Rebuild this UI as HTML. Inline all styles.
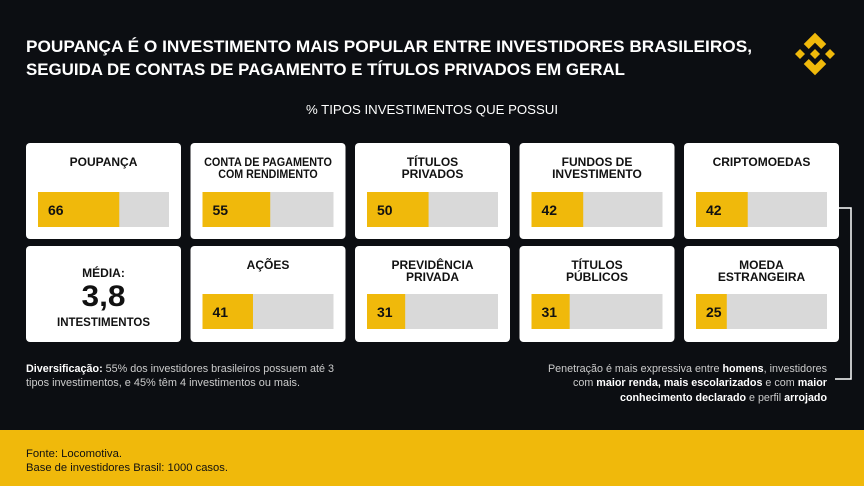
<!DOCTYPE html>
<html><head><meta charset="utf-8"><style>
html,body{margin:0;padding:0;background:#0c0e12;}
svg{display:block;font-family:"Liberation Sans",sans-serif;}
</style></head><body>
<svg id="chart" width="864" height="486" viewBox="0 0 864 486">
<rect x="0" y="0" width="864" height="486" fill="#0c0e12"/>
<text x="26" y="52" fill="#fff" font-weight="bold" font-size="17" textLength="726" lengthAdjust="spacingAndGlyphs">POUPANÇA É O INVESTIMENTO MAIS POPULAR ENTRE INVESTIDORES BRASILEIROS,</text>
<text x="26" y="75" fill="#fff" font-weight="bold" font-size="17" textLength="599" lengthAdjust="spacingAndGlyphs">SEGUIDA DE CONTAS DE PAGAMENTO E TÍTULOS PRIVADOS EM GERAL</text>
<g fill="#F0B90B" transform="translate(815,54) scale(1.25)">
<polygon points="0,-17 9,-8 5,-4 0,-9 -5,-4 -9,-8"/>
<polygon points="0,17 9,8 5,4 0,9 -5,4 -9,8"/>
<polygon points="-16,0 -12,-4 -8,0 -12,4"/>
<polygon points="16,0 12,-4 8,0 12,4"/>
<polygon points="0,-4 4,0 0,4 -4,0"/>
</g>
<text x="432" y="114" fill="#fff" font-size="13" text-anchor="middle" textLength="252" lengthAdjust="spacingAndGlyphs">% TIPOS INVESTIMENTOS QUE POSSUI</text>
<g id="cards"></g>
<polyline points="839,208 851,208 851,379 835,379" fill="none" stroke="#fff" stroke-width="1.5"/>
<text x="26" y="372" fill="#ccc" font-size="11" textLength="308" lengthAdjust="spacingAndGlyphs"><tspan font-weight="bold" fill="#fff">Diversificação:</tspan> 55% dos investidores brasileiros possuem até 3</text>
<text x="26" y="386" fill="#ccc" font-size="11" textLength="274" lengthAdjust="spacingAndGlyphs">tipos investimentos, e 45% têm 4 investimentos ou mais.</text>
<text x="827" y="372" fill="#ccc" font-size="11" text-anchor="end" textLength="279" lengthAdjust="spacingAndGlyphs">Penetração é mais expressiva entre <tspan font-weight="bold" fill="#fff">homens</tspan>, investidores</text>
<text x="827" y="386" fill="#ccc" font-size="11" text-anchor="end" textLength="254" lengthAdjust="spacingAndGlyphs">com <tspan font-weight="bold" fill="#fff">maior renda, mais escolarizados</tspan> e com <tspan font-weight="bold" fill="#fff">maior</tspan></text>
<text x="827" y="401" fill="#ccc" font-size="11" text-anchor="end" textLength="207" lengthAdjust="spacingAndGlyphs"><tspan font-weight="bold" fill="#fff">conhecimento declarado</tspan> e perfil <tspan font-weight="bold" fill="#fff">arrojado</tspan></text>
<rect x="0" y="430" width="864" height="56" fill="#F0B90B"/>
<text x="26" y="457" fill="#111" font-size="11" textLength="96" lengthAdjust="spacingAndGlyphs">Fonte: Locomotiva.</text>
<text x="26" y="471" fill="#111" font-size="11" textLength="202" lengthAdjust="spacingAndGlyphs">Base de investidores Brasil: 1000 casos.</text>
</svg>
<script>
const categories = [["POUPANÇA"],["CONTA DE PAGAMENTO","COM RENDIMENTO"],["TÍTULOS","PRIVADOS"],["FUNDOS DE","INVESTIMENTO"],["CRIPTOMOEDAS"],null,["AÇÕES"],["PREVIDÊNCIA","PRIVADA"],["TÍTULOS","PÚBLICOS"],["MOEDA","ESTRANGEIRA"]];
const values = [66,55,50,42,42,null,41,31,31,25];
const averageValue = "3,8";
const NS="http://www.w3.org/2000/svg";
const g=document.getElementById('cards');
const cardX=i=>26+(i%5)*164.5, cardY=i=>i<5?143:246;
const barW=131;
const xScale=v=>v/100*barW*0.94;
function mk(t,a,p){const e=document.createElementNS(NS,t);for(const k in a)e.setAttribute(k,a[k]);p.appendChild(e);return e;}
categories.forEach((cat,i)=>{
  const x=cardX(i),y=cardY(i);
  const c=mk('rect',{x:x,y:y,width:155,height:96,rx:4,fill:'#fff'},g);
  
  
  if(cat===null){
    const a=mk('text',{x:x+77.5,y:y+31,'text-anchor':'middle','font-size':12,'font-weight':'bold',fill:'#111'},g);a.textContent='MÉDIA:';
    
    
    const b=mk('text',{x:x+77.5,y:y+60,'text-anchor':'middle','font-size':30,'font-weight':'bold',fill:'#111',textLength:44,lengthAdjust:'spacingAndGlyphs'},g);b.textContent=averageValue;
    
    
    const d=mk('text',{x:x+77.5,y:y+80,'text-anchor':'middle','font-size':12,'font-weight':'bold',fill:'#111',textLength:93,lengthAdjust:'spacingAndGlyphs'},g);d.textContent='INTESTIMENTOS';
    
    
    return;
  }
  cat.forEach((ln,k)=>{
    const t=mk('text',{x:x+77.5,y:y+23+k*12,'text-anchor':'middle','font-size':12,'font-weight':'bold',fill:'#111'},g);
    if(ln.length>12){t.setAttribute('textLength',ln.length*7.1);t.setAttribute('lengthAdjust','spacingAndGlyphs');}
    t.textContent=ln;
    
    
  });
  const by=y+(i<5?49:48);
  const bg=mk('rect',{x:x+12,y:by,width:barW,height:35,fill:'#d9d9d9'},g);
  
  
  const br=mk('rect',{x:x+12,y:by,width:xScale(values[i]),height:35,fill:'#F0B90B'},g);
  
  
  const vt=mk('text',{x:x+22,y:by+23,'font-size':14,'font-weight':'bold',fill:'#111'},g);
  vt.textContent=values[i];
  
  
});
</script>
</body></html>
